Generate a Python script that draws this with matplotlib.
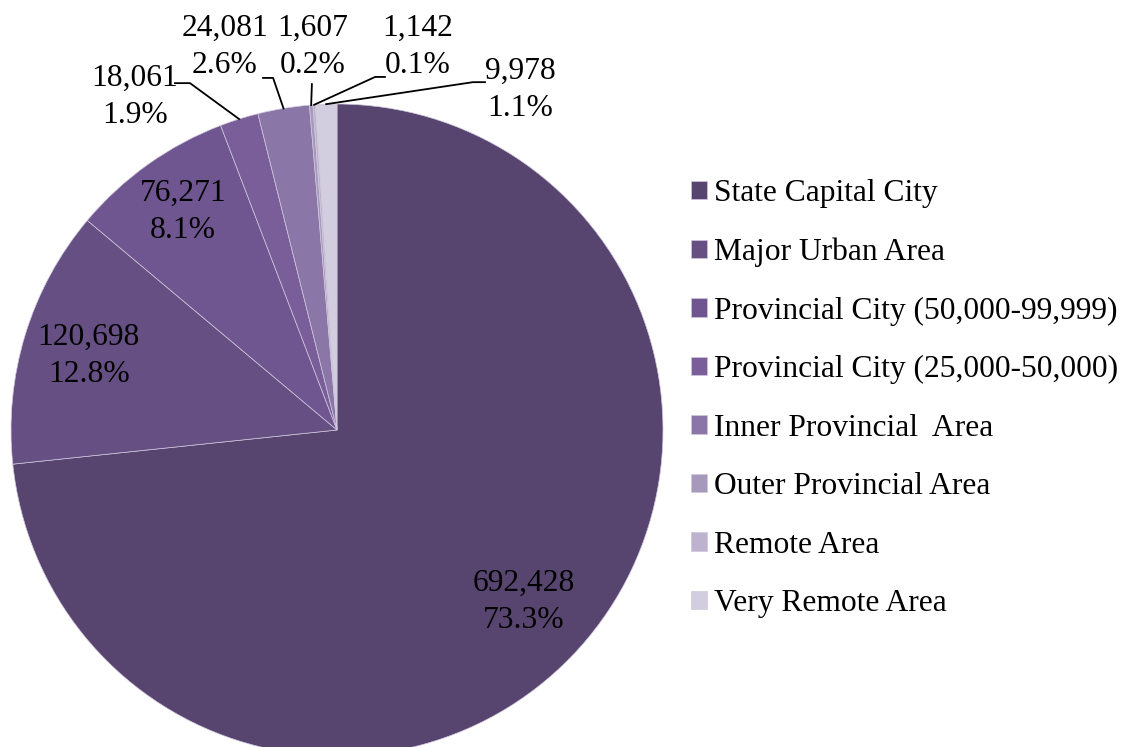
import matplotlib.pyplot as plt
import numpy as np

# 数据
categories = ['State Capital City', 'Major Urban Area', 'Provincial City (50,000-99,999)',
              'Provincial City (25,000-50,000)', 'Inner Provincial  Area', 'Outer Provincial Area',
              'Remote Area', 'Very Remote Area']
counts = [692428, 120698, 76271, 18061, 24081, 1607, 1142, 9978]
percent_labels = ['73.3%', '12.8%', '8.1%', '1.9%', '2.6%', '0.2%', '0.1%', '1.1%']
colors = ['#574570', '#664f82', '#6f5690', '#7a5e9a', '#8b76a8', '#a699bb', '#bdb3cf', '#d3cde0']

plt.rcParams['font.family'] = ['Liberation Serif', 'DejaVu Serif']
fs = 22.7

fig = plt.figure(figsize=(11.23, 7.47), dpi=100)
W, H = 1123, 747
cx, cy, R = 337, 430, 326
ax = fig.add_axes([(cx - R) / W, (H - cy - R) / H, 2 * R / W, 2 * R / H])

wedges, _ = ax.pie(counts, colors=colors, startangle=90, counterclock=False,
                   wedgeprops=dict(edgecolor='#cfc8dc', linewidth=0.5))
ax.set_xlim(-1, 1)
ax.set_ylim(-1, 1)
ax.set_aspect('auto')
ax.axis('off')

labels = ['{:,}\n{}'.format(c, p) for c, p in zip(counts, percent_labels)]

# 扇区中点角度
mid_angles = [np.deg2rad((w.theta1 + w.theta2) / 2) for w in wedges]

# 内部标签位置
inside = {0: (0.574, -0.528), 1: (-0.761, 0.227), 2: (-0.472, 0.669)}
for i, (x, y) in inside.items():
    ax.text(x, y, labels[i], ha='center', va='center', fontsize=fs,
            linespacing=1.36, color='black')

# 外部标签：文字位置，引线起点，拐点
outside = {
    3: ((-0.620, 1.021), (-0.497, 1.064), (-0.451, 1.064)),
    4: ((-0.344, 1.175), (-0.227, 1.080), (-0.196, 1.080)),
    5: ((-0.074, 1.175), (-0.077, 1.061), None),
    6: ((0.248, 1.175), (0.147, 1.083), (0.117, 1.083)),
    7: ((0.561, 1.043), (0.454, 1.067), (0.417, 1.067)),
}
for i, (tpos, start, elbow) in outside.items():
    ax.text(tpos[0], tpos[1], labels[i], ha='center', va='center', fontsize=fs,
            linespacing=1.36, color='black', clip_on=False)
    ex, ey = np.cos(mid_angles[i]), np.sin(mid_angles[i])
    if elbow is None:
        xs, ys = [start[0], ex], [start[1], ey]
    else:
        xs, ys = [start[0], elbow[0], ex], [start[1], elbow[1], ey]
    ax.plot(xs, ys, color='black', linewidth=1.3, clip_on=False)

fig.legend(wedges, categories, loc='upper left',
           bbox_to_anchor=(691 / W, 1 - 179 / H), frameon=False,
           fontsize=fs, handlelength=0.52, handleheight=0.52,
           handletextpad=0.22, labelspacing=0.935, borderpad=0, borderaxespad=0)

plt.savefig('out.png', dpi=100, facecolor='white')
